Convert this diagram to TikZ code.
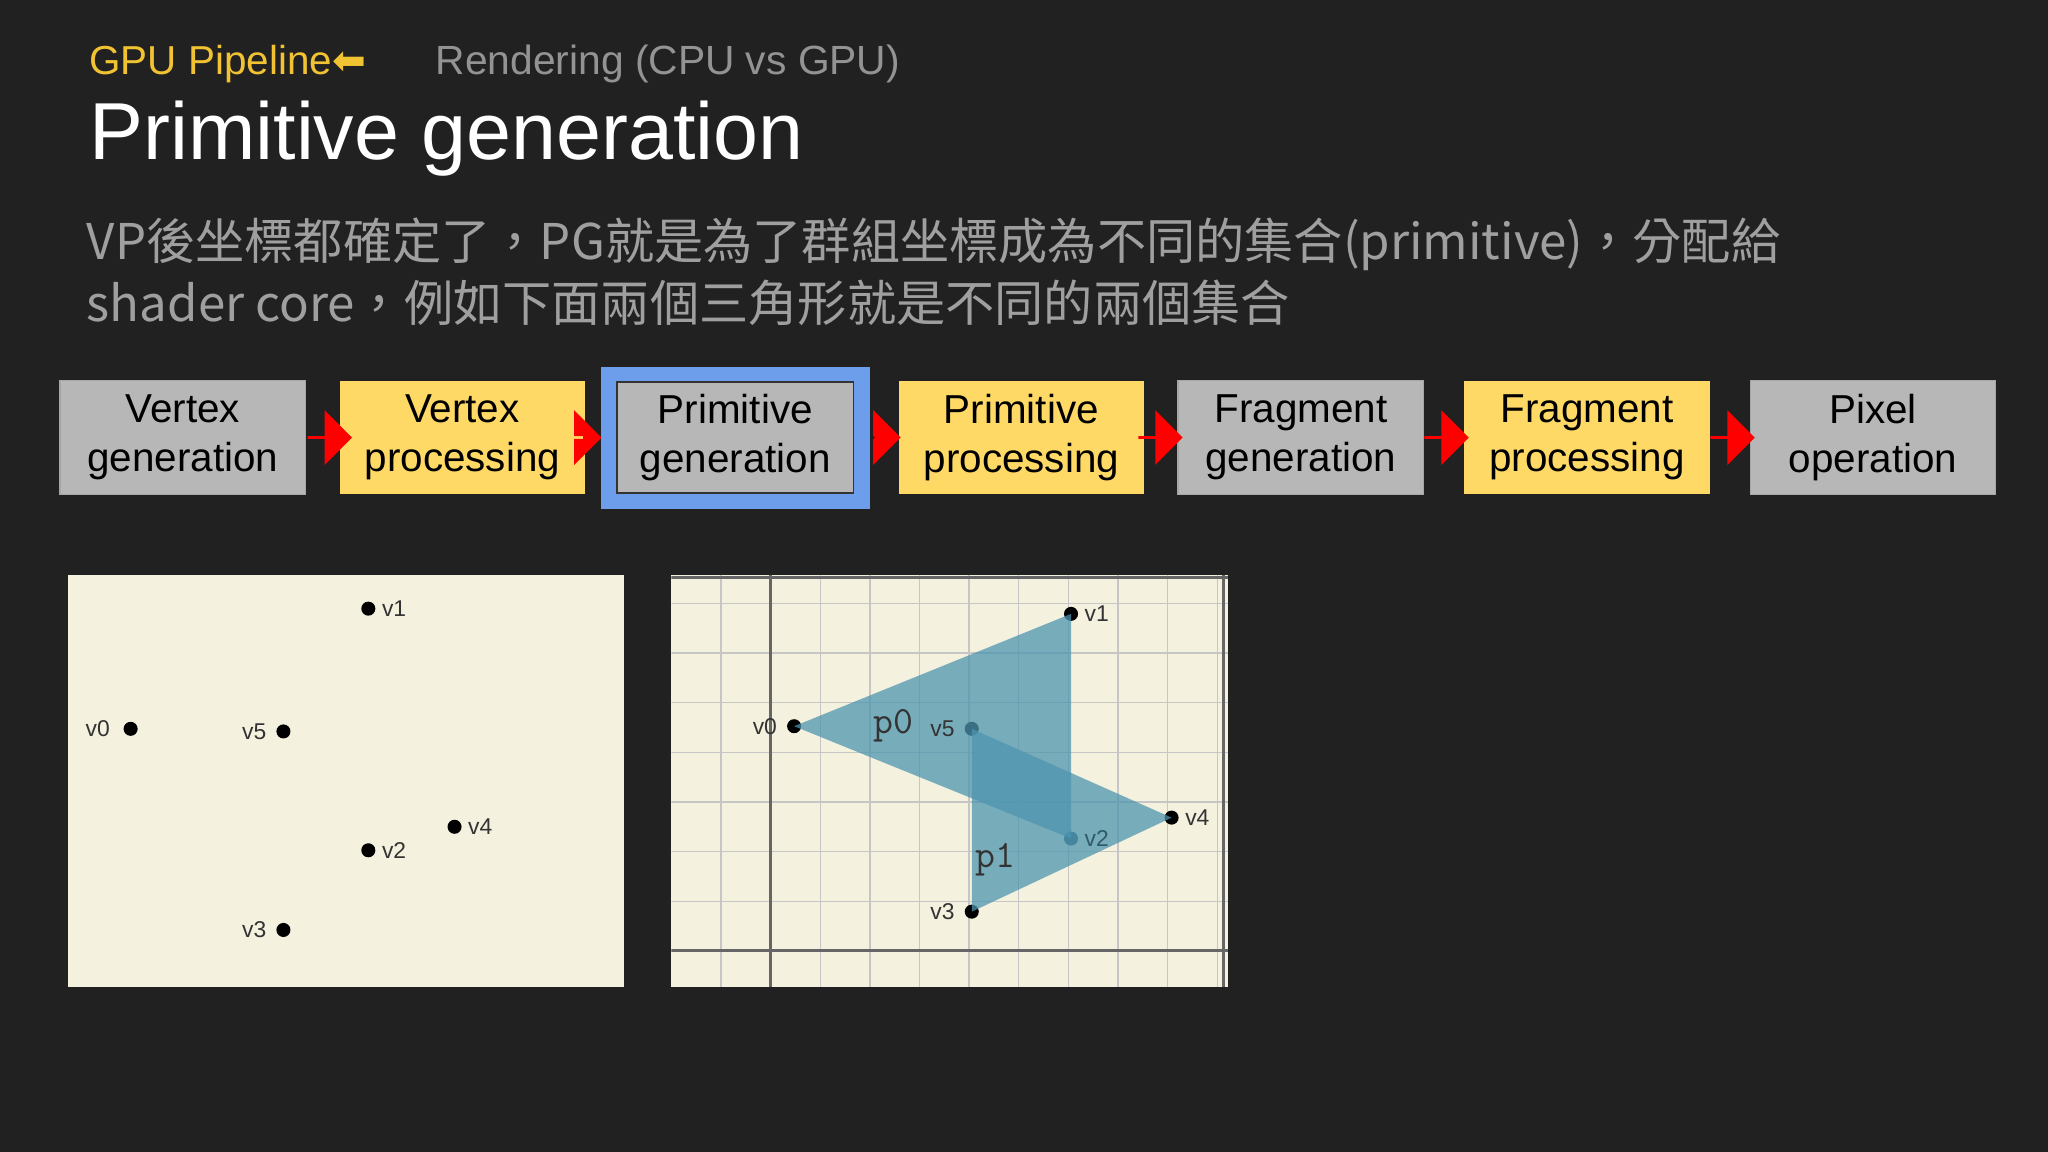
\documentclass[tikz,border=0pt]{standalone}
\usepackage{fontspec}
\setmainfont{Liberation Sans}
\newfontfamily\cjk{Noto Sans CJK TC}
\newfontfamily\symfont{DejaVu Sans}
\usetikzlibrary{positioning,shapes.arrows}
\definecolor{bgdark}{HTML}{212121}
\definecolor{boxgray}{HTML}{B7B7B7}
\definecolor{boxyellow}{HTML}{FFD966}
\definecolor{selblue}{HTML}{6D9EEB}
\definecolor{paper}{HTML}{F5F1DF}
\definecolor{tri}{HTML}{4E95B0}
\definecolor{hdr}{HTML}{F1C232}
\begin{document}
\begin{tikzpicture}[x=0.013061cm,y=-0.013061cm,
	graynode/.style={rectangle,draw=gray!70,fill=boxgray,minimum width=188*0.013061cm,minimum height=87*0.013061cm,align=center,font=\fontsize{11.5}{14}\selectfont,inner sep=0pt},
	yellownode/.style={graynode,fill=boxyellow,draw=none},
	redarrow/.style={single arrow,fill=red,draw=none,minimum height=34*0.013061cm,minimum width=42*0.013061cm,single arrow head extend=4pt,inner sep=0pt},
	dotnode/.style={circle,fill=black,inner sep=0pt,minimum size=4pt},
	vlabel/.style={font=\fontsize{6.5}{8}\selectfont,text=black!80,inner sep=1.5pt}]
	
	\useasboundingbox (0,0) rectangle (1568,882);
	\fill[bgdark] (0,0) rectangle (1568,882);
	
	% headings
	\node[anchor=base west,text=hdr,font=\fontsize{11.5}{14}\selectfont,inner sep=0] (hdr) at (68,57) {GPU Pipeline{\symfont⬅}};
	\node[anchor=base west,text=gray!85,font=\fontsize{11.6}{14}\selectfont,inner sep=0] (sub) at (333,57) {Rendering (CPU vs GPU)};
	\node[anchor=base west,text=white,font=\fontsize{23}{28}\selectfont,inner sep=0] (title) at (68,122) {Primitive generation};
	\node[anchor=north west,text=gray!75,font=\cjk\fontsize{14}{17.8}\selectfont,align=left,inner sep=0] (desc) at (66,166)
		{VP後坐標都確定了，PG就是為了群組坐標成為不同的集合(primitive)，分配給\\shader core，例如下面兩個三角形就是不同的兩個集合};
	
	% pipeline
	\node[graynode] (0) at (140,335) {Vertex\\generation};
	\node[yellownode] (1) at (354,335) {Vertex\\processing};
	\fill[selblue] (460,281) rectangle (666,390);
	\node[graynode,draw=black!80,minimum width=181*0.013061cm,minimum height=85*0.013061cm] (2) at (563,335) {Primitive\\generation};
	\node[yellownode] (3) at (782,335) {Primitive\\processing};
	\node[graynode] (4) at (996,335) {Fragment\\generation};
	\node[yellownode] (5) at (1215,335) {Fragment\\processing};
	\node[graynode] (6) at (1434,335) {Pixel\\operation};
	
	\node[redarrow] (a0) at (252,335) {};
	\node[redarrow,minimum height=14*0.013061cm] (a1) at (453,335) {};
	\node[redarrow,minimum height=20*0.013061cm] (a2) at (679,335) {};
	\node[redarrow] (a3) at (888,335) {};
	\node[redarrow] (a4) at (1107,335) {};
	\node[redarrow] (a5) at (1326,335) {};
	
	% left panel: vertices
	\fill[paper] (52,440) rectangle (478,756);
	\node[dotnode] (l1) at (282,466) {};
	\node[dotnode] (l0) at (100,558) {};
	\node[dotnode] (l5) at (217,560) {};
	\node[dotnode] (l4) at (348,633) {};
	\node[dotnode] (l2) at (282,651) {};
	\node[dotnode] (l3) at (217,712) {};
	\node[vlabel,right=0pt of l1] {v1};
	\node[vlabel,left=2pt of l0] {v0};
	\node[vlabel,left=1pt of l5] {v5};
	\node[vlabel,right=0pt of l4] {v4};
	\node[vlabel,right=0pt of l2] {v2};
	\node[vlabel,left=1pt of l3] {v3};
	
	% right panel: primitives
	\fill[paper] (514,440) rectangle (940,756);
	\begin{scope}
		\clip (514,440) rectangle (940,756);
		\foreach \x in {552,590,...,940} \draw[gray!45,line width=0.4pt] (\x,440) -- (\x,756);
		\foreach \y in {462,500,...,756} \draw[gray!45,line width=0.4pt] (514,\y) -- (940,\y);
		\draw[gray!80!black,line width=0.8pt] (590,440) -- (590,756);
		\draw[gray!80!black,line width=0.8pt] (514,728) -- (940,728);
		\draw[gray!80!black,line width=0.8pt] (937,440) -- (937,756);
		\draw[gray!80!black,line width=0.8pt] (514,442) -- (940,442);
	\end{scope}
	\node[dotnode] (r1) at (820,470) {};
	\node[dotnode] (r0) at (608,556) {};
	\node[dotnode] (r5) at (744,558) {};
	\node[dotnode] (r4) at (897,626) {};
	\node[dotnode,fill=tri!60!black] (r2) at (820,642) {};
	\node[dotnode] (r3) at (744,698) {};
	\fill[tri,opacity=0.75] (r0.center) -- (r1.center) -- (r2.center) -- cycle;
	\fill[tri,opacity=0.75] (r5.center) -- (r4.center) -- (r3.center) -- cycle;
	\node[vlabel,right=0pt of r1] {v1};
	\node[vlabel,left=1pt of r0] {v0};
	\node[vlabel,left=1pt of r5] {v5};
	\node[vlabel,right=0pt of r4] {v4};
	\node[vlabel,right=0pt of r2,text=tri!60!black] {v2};
	\node[vlabel,left=1pt of r3] {v3};
	\node[font=\ttfamily\fontsize{11}{13}\selectfont,text=black!80] (p0) at (684,556) {p0};
	\node[font=\ttfamily\fontsize{11}{13}\selectfont,text=black!80] (p1) at (762,658) {p1};
\end{tikzpicture}
\end{document}
